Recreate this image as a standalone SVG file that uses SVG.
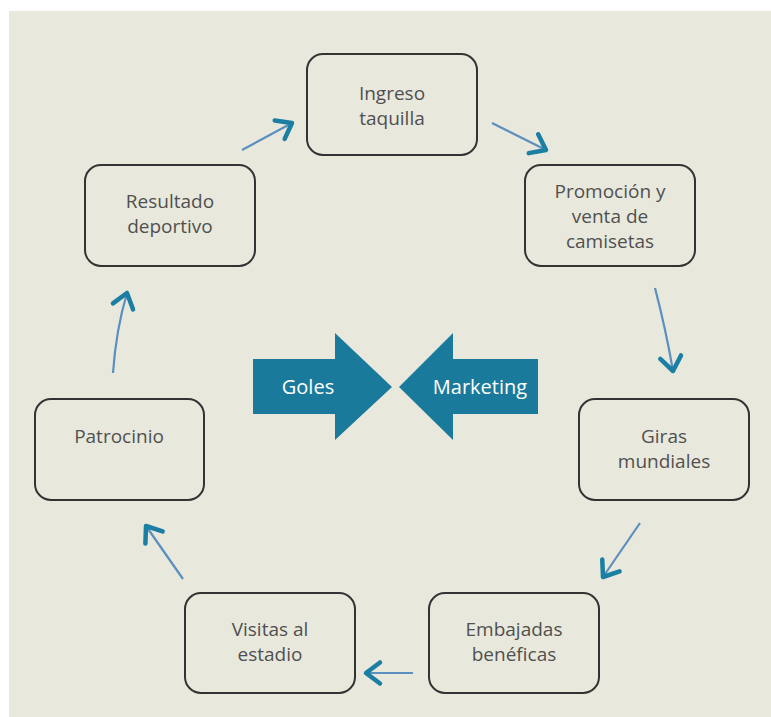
<svg xmlns="http://www.w3.org/2000/svg" width="771" height="717" viewBox="0 0 771 717">
  <style>
    .box { fill: none; stroke: #333333; stroke-width: 2; }
    .lbl { font-family: "Open Sans", "Liberation Sans", sans-serif; font-size: 19px; fill: #505050; text-anchor: middle; }
    .big { font-family: "Open Sans", "Liberation Sans", sans-serif; font-size: 20px; fill: #ffffff; text-anchor: middle; }
    .conn { fill: none; stroke: #5a8fbf; stroke-width: 2.2; marker-end: url(#ah); }
    .fat { fill: #1a7a9b; }
  </style>
  <defs>
    <marker id="ah" markerUnits="userSpaceOnUse" viewBox="-20 -14 26 28" refX="0" refY="0" markerWidth="26" markerHeight="28" orient="auto" overflow="visible">
      <path d="M-14,-10.5 L0,0 L-14,10.5" fill="none" stroke="#1b7ea3" stroke-width="4.5" stroke-linejoin="round" stroke-linecap="round"/>
    </marker>
  </defs>
  <rect x="0" y="0" width="771" height="717" fill="#ffffff"/>
  <rect x="9" y="11" width="762" height="706" fill="#e9e8dd"/>

  <g id="connectors">
    <path class="conn" d="M242,150 L292,123"/>
    <path class="conn" d="M492,123 L546,150"/>
    <path class="conn" d="M655,288 Q666,330 673,371"/>
    <path class="conn" d="M640,523 L603,577"/>
    <path class="conn" d="M413,673 L366,673"/>
    <path class="conn" d="M183,579 L146,526"/>
    <path class="conn" d="M113,373 Q116,330 127,293"/>
  </g>

  <g id="goles">
    <path class="fat" d="M253,359 L335,359 L335,333 L392,387 L335,440 L335,414 L253,414 Z"/>
    <text class="big" x="308" y="394">Goles</text>
  </g>
  <g id="marketing">
    <path class="fat" d="M538,359 L453,359 L453,333 L399,387 L453,440 L453,414 L538,414 Z"/>
    <text class="big" x="480" y="394">Marketing</text>
  </g>

  <g id="ingreso">
    <rect class="box" x="307" y="54" width="170" height="101" rx="16"/>
    <text class="lbl" x="392" y="100">Ingreso</text>
    <text class="lbl" x="392" y="125">taquilla</text>
  </g>
  <g id="promocion">
    <rect class="box" x="525" y="165" width="170" height="101" rx="16"/>
    <text class="lbl" x="610" y="198">Promoción y</text>
    <text class="lbl" x="610" y="223">venta de</text>
    <text class="lbl" x="610" y="248">camisetas</text>
  </g>
  <g id="resultado">
    <rect class="box" x="85" y="165" width="170" height="101" rx="16"/>
    <text class="lbl" x="170" y="208">Resultado</text>
    <text class="lbl" x="170" y="233">deportivo</text>
  </g>
  <g id="patrocinio">
    <rect class="box" x="35" y="399" width="169" height="101" rx="16"/>
    <text class="lbl" x="119" y="443">Patrocinio</text>
  </g>
  <g id="giras">
    <rect class="box" x="579" y="399" width="170" height="101" rx="16"/>
    <text class="lbl" x="664" y="443">Giras</text>
    <text class="lbl" x="664" y="468">mundiales</text>
  </g>
  <g id="embajadas">
    <rect class="box" x="429" y="593" width="170" height="100" rx="16"/>
    <text class="lbl" x="514" y="636">Embajadas</text>
    <text class="lbl" x="514" y="661">benéficas</text>
  </g>
  <g id="visitas">
    <rect class="box" x="185" y="593" width="170" height="100" rx="16"/>
    <text class="lbl" x="270" y="636">Visitas al</text>
    <text class="lbl" x="270" y="661">estadio</text>
  </g>
</svg>
